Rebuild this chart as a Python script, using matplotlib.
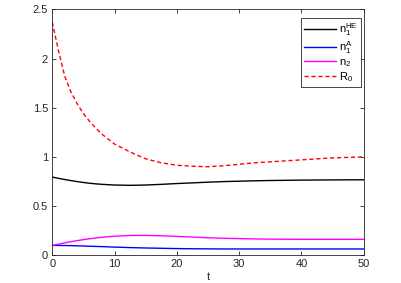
import matplotlib.pyplot as plt

plt.rcParams["font.family"] = ["Liberation Sans", "DejaVu Sans"]
plt.rcParams["mathtext.default"] = "regular"

# time points and solution curves
t = [0, 1, 2, 3, 4, 5, 6, 7, 8, 10, 12.5, 15, 17.5, 20, 22.5, 25,
     27.5, 30, 32.5, 35, 37.5, 40, 42.5, 45, 47.5, 50]

n1_he = [0.795, 0.782, 0.770, 0.759, 0.749, 0.740, 0.732, 0.726, 0.721,
         0.714, 0.711, 0.714, 0.721, 0.729, 0.736, 0.743, 0.749, 0.753,
         0.757, 0.760, 0.762, 0.764, 0.765, 0.766, 0.767, 0.767]

n1_a = [0.100, 0.100, 0.099, 0.098, 0.096, 0.094, 0.092, 0.090, 0.088,
        0.083, 0.078, 0.074, 0.071, 0.068, 0.066, 0.065, 0.064, 0.064,
        0.064, 0.064, 0.064, 0.064, 0.064, 0.064, 0.064, 0.064]

n2 = [0.100, 0.113, 0.126, 0.138, 0.149, 0.159, 0.168, 0.176, 0.183,
      0.194, 0.201, 0.202, 0.198, 0.192, 0.185, 0.178, 0.173, 0.169,
      0.166, 0.164, 0.163, 0.162, 0.162, 0.162, 0.162, 0.162]

r0 = [2.37, 2.08, 1.82, 1.66, 1.54, 1.44, 1.36, 1.29, 1.23, 1.13, 1.05,
      0.98, 0.94, 0.915, 0.905, 0.90, 0.91, 0.925, 0.94, 0.95, 0.96,
      0.97, 0.98, 0.99, 0.995, 1.0]

labels = ["$n_1^{HE}$", "$n_1^{A}$", "$n_2$", "$R_0$"]

fig = plt.figure(figsize=(4.02, 2.83), dpi=100)
ax = fig.add_axes([0.130, 0.098, 0.775, 0.869])

ax.plot(t, n1_he, color="black", lw=1.0, label=labels[0])
ax.plot(t, n1_a, color="blue", lw=1.0, label=labels[1])
ax.plot(t, n2, color="magenta", lw=1.0, label=labels[2])
ax.plot(t, r0, color="red", lw=1.0, ls=(0, (3, 2)), label=labels[3])

ax.set_xlim(0, 50)
ax.set_ylim(0, 2.5)
ax.set_xticks([0, 10, 20, 30, 40, 50])
ax.set_yticks([0, 0.5, 1, 1.5, 2, 2.5])
ax.set_yticklabels(["0", "0.5", "1", "1.5", "2", "2.5"])

gray = "#262626"
ax.tick_params(direction="in", top=True, right=True, length=3,
               width=0.6, labelsize=8, colors=gray, pad=3)
for s in ax.spines.values():
    s.set_linewidth(0.6)
    s.set_color(gray)

ax.set_xlabel("t", fontsize=8, color=gray, labelpad=2)

leg = ax.legend(loc="upper right", bbox_to_anchor=(0.991, 0.965),
                borderaxespad=0, fontsize=8, handlelength=2.8,
                fancybox=False, framealpha=1, labelspacing=0.1,
                handletextpad=0.3, borderpad=0.3)
leg.get_frame().set_edgecolor(gray)
leg.get_frame().set_linewidth(0.6)

fig.savefig("out.png", dpi=100)
